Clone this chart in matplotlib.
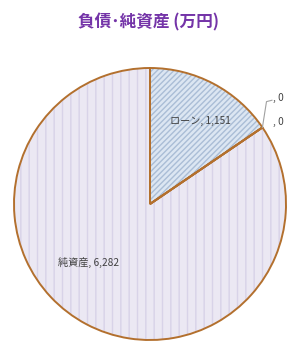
import matplotlib
matplotlib.use("Agg")
import matplotlib.pyplot as plt
import numpy as np

plt.rcParams['font.family'] = ['Noto Sans CJK JP', 'DejaVu Sans']

title = "負債･純資産 (万円)"
categories = ["ローン", "", "", "純資産"]
values = [1151, 0, 0, 6282]
face_colors = ["#dce6f2", "#f2dcdb", "#ebf1de", "#ebe8f3"]
hatch_colors = ["#aabdd6", "#d9a9a7", "#c4d79b", "#d8d3e8"]
hatches = ["//////", "", "", "||"]
edge_color = "#b3702e"

fig = plt.figure(figsize=(2.94, 3.45), dpi=100)
ax = fig.add_axes([14/294, 5/345, 272/294, 272/345])

# fill + hatch layer
wedges, _ = ax.pie(values, startangle=90, counterclock=False, radius=1.0,
                   wedgeprops=dict(linewidth=0))
for w, fc, hc, h in zip(wedges, face_colors, hatch_colors, hatches):
    w.set_facecolor(fc)
    w.set_edgecolor(hc)
    w.set_hatch(h)
    w.set_linewidth(0)

# outline layer
ax.pie(values, startangle=90, counterclock=False, radius=1.0,
       colors=["none"] * len(values),
       wedgeprops=dict(linewidth=1.4, edgecolor=edge_color, fill=False))

labels = [f"{c}, {v:,}" for c, v in zip(categories, values)]
txt_kw = dict(fontsize=7.3, color="#404040", va="center")
ax.text(0.37, 0.61, labels[0], ha="center", **txt_kw)
ax.text(-0.45, -0.43, labels[3], ha="center", **txt_kw)

# zero-value labels with leader line
theta = np.deg2rad(wedges[0].theta1)
px, py = np.cos(theta), np.sin(theta)
ax.plot([px, px + 0.03, px + 0.07], [py, py + 0.19, py + 0.2],
        color="#a0a0a0", lw=0.8, clip_on=False)
ax.text(px + 0.08, py + 0.22, labels[1], ha="left", **txt_kw)
ax.text(px + 0.08, py + 0.04, labels[2], ha="left", **txt_kw)

ax.set_xlim(-1, 1)
ax.set_ylim(-1, 1)
ax.set_aspect("equal")
ax.axis("off")

fig.text(148/294, 1 - 22/345, title, ha="center", va="center",
         fontsize=12, fontweight="bold", color="#7434a8")

fig.savefig("out.png", dpi=100)
